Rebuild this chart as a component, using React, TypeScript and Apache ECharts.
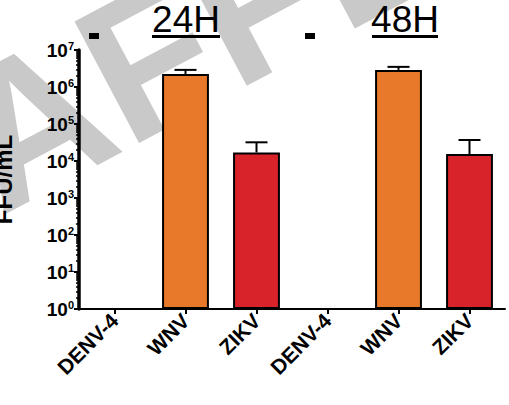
import React, { useEffect, useRef } from "react";
import * as echarts from "echarts";

const categories = ["DENV-4", "WNV", "ZIKV", "DENV-4", "WNV", "ZIKV"];
const meanValues: (number | null)[] = [null, 2.25e6, 1.7e4, null, 2.9e6, 1.55e4];
const errorTops: (number | null)[] = [null, 2.9e6, 3.2e4, null, 3.5e6, 3.7e4];
const barColors = ["#E8792B", "#E8792B", "#D8232A", "#E8792B", "#E8792B", "#D8232A"];
const timeLabels = ["24H", "48H"];
const yAxisTitle = "FFU/mL";
const watermarkText = "AFFLE";

export default function App() {
  const ref = useRef<HTMLDivElement>(null);
  useEffect(() => {
    if (!ref.current) return;
    const chart = echarts.init(ref.current, null, { renderer: "svg" });
    const barData = meanValues.map((v, i) => ({
      value: v,
      itemStyle: { color: barColors[i] },
    }));
    const errData = meanValues
      .map((v, i) => (v == null || errorTops[i] == null ? null : [i, v, errorTops[i]]))
      .filter((d) => d != null);
    const font = "'Liberation Sans', Arial, sans-serif";
    const rad = (28 * Math.PI) / 180;
    chart.setOption({
      animation: false,
      backgroundColor: "#ffffff",
      graphic: [
        {
          type: "text",
          x: 14,
          y: 244,
          rotation: rad,
          z: -10,
          silent: true,
          style: {
            text: watermarkText,
            fontFamily: font,
            fontWeight: "bold",
            fontSize: 200,
            fill: "#c9c9c9",
            align: "left",
            verticalAlign: "bottom",
          },
        },
        {
          type: "text",
          x: 186,
          y: 19,
          z: 10,
          style: {
            text: timeLabels[0],
            fontFamily: font,
            fontSize: 37,
            fill: "#000",
            align: "center",
            verticalAlign: "middle",
          },
        },
        {
          type: "text",
          x: 405,
          y: 19,
          z: 10,
          style: {
            text: timeLabels[1],
            fontFamily: font,
            fontSize: 37,
            fill: "#000",
            align: "center",
            verticalAlign: "middle",
          },
        },
        { type: "rect", z: 10, shape: { x: 152, y: 35, width: 68, height: 3 }, style: { fill: "#000" } },
        { type: "rect", z: 10, shape: { x: 372, y: 35, width: 66, height: 3 }, style: { fill: "#000" } },
        { type: "rect", z: 10, shape: { x: 89, y: 33, width: 10, height: 6 }, style: { fill: "#000" } },
        { type: "rect", z: 10, shape: { x: 305, y: 33, width: 10, height: 6 }, style: { fill: "#000" } },
      ],
      grid: { left: 79, right: 4, top: 50, bottom: 96, containLabel: false, outerBoundsMode: "none" },
      xAxis: {
        type: "category",
        data: categories,
        axisLine: { lineStyle: { color: "#000", width: 2 } },
        axisTick: { show: true, alignWithLabel: true, length: 5, lineStyle: { color: "#000", width: 2 } },
        axisLabel: {
          rotate: 45,
          interval: 0,
          margin: 8,
          hideOverlap: false,
          fontFamily: font,
          fontWeight: "bold",
          fontSize: 21,
          color: "#000",
        },
      },
      yAxis: {
        type: "log",
        logBase: 10,
        min: 1,
        max: 1e7,
        interval: 1,
        splitNumber: 7,
        name: yAxisTitle,
        nameLocation: "middle",
        nameGap: 64,
        nameRotate: 90,
        nameTextStyle: { fontFamily: font, fontWeight: "bold", fontSize: 24, color: "#000" },
        axisLine: { show: true, lineStyle: { color: "#000", width: 3.5 } },
        axisTick: { show: true, length: 5, lineStyle: { color: "#000", width: 2 } },
        minorTick: { show: true, splitNumber: 9, length: 3, lineStyle: { color: "#000", width: 1.5 } },
        splitLine: { show: false },
        axisLabel: {
          margin: 5,
          color: "#000",
          formatter: (v: number) => "{b|10}{s|" + Math.round(Math.log10(v)) + "}",
          rich: {
            b: { fontFamily: font, fontWeight: "bold", fontSize: 19, color: "#000" },
            s: { fontFamily: font, fontWeight: "bold", fontSize: 11, color: "#000", padding: [0, 0, 9, 0] },
          },
        },
      },
      series: [
        {
          type: "bar",
          data: barData,
          barWidth: "66%",
          itemStyle: { borderColor: "#000", borderWidth: 2 },
          z: 2,
        },
        {
          type: "custom",
          data: errData,
          z: 5,
          renderItem: (params: any, api: any) => {
            const i = api.value(0);
            const p0 = api.coord([i, api.value(1)]);
            const p1 = api.coord([i, api.value(2)]);
            const hw = 11;
            return {
              type: "group",
              children: [
                {
                  type: "line",
                  shape: { x1: p0[0], y1: p0[1], x2: p1[0], y2: p1[1] },
                  style: { stroke: "#000", lineWidth: 2 },
                },
                {
                  type: "line",
                  shape: { x1: p1[0] - hw, y1: p1[1], x2: p1[0] + hw, y2: p1[1] },
                  style: { stroke: "#000", lineWidth: 2 },
                },
              ],
            };
          },
        },
      ],
    });
    return () => chart.dispose();
  }, []);
  return (
    <div
      ref={ref}
      style={{ position: "fixed", left: 0, top: 0, width: 509, height: 405 }}
    />
  );
}
